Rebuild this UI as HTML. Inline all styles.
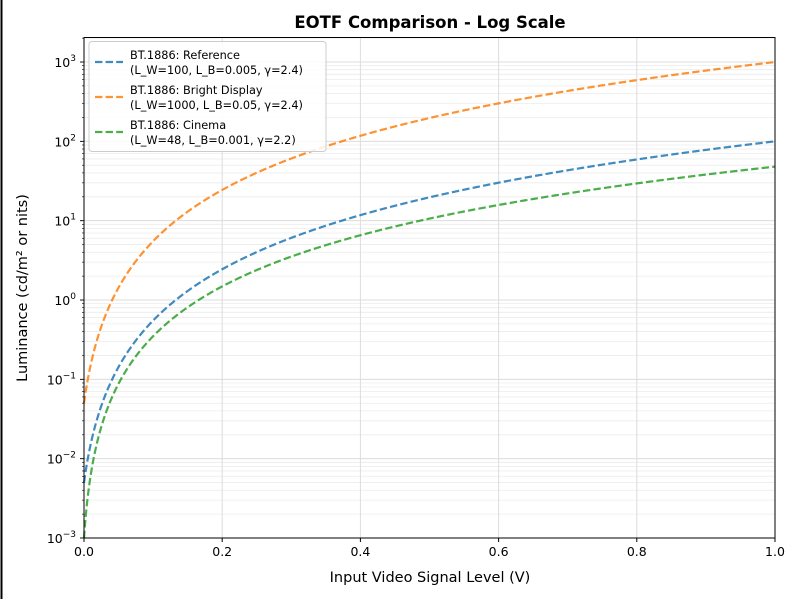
<!DOCTYPE html>
<html><head><meta charset="utf-8"><style>
html,body{margin:0;padding:0;background:#fff;}
svg{display:block;font-family:"Liberation Sans","DejaVu Sans",sans-serif;}
</style></head><body>
<svg id="s" width="800" height="599" viewBox="0 0 800 599" xmlns="http://www.w3.org/2000/svg">
<rect width="800" height="599" fill="#fff"/>
<line x1="1.5" y1="0" x2="1.5" y2="599" stroke="#000" stroke-width="2"/>
<g id="grid"></g>
<g id="curves" fill="none" stroke-width="2.2" stroke-dasharray="7.4,3.2" opacity="0.85"></g>
<rect x="84" y="37.5" width="691" height="500.5" fill="none" stroke="#000" stroke-width="1"/>
<g id="ticks" font-size="12.5" fill="#000"></g>
<text x="430" y="28" text-anchor="middle" font-size="16.5" font-weight="bold" font-family="DejaVu Sans,sans-serif">EOTF Comparison - Log Scale</text>
<text x="430" y="582" text-anchor="middle" font-size="14.5" font-family="DejaVu Sans,sans-serif">Input Video Signal Level (V)</text>
<text transform="translate(27,288) rotate(-90)" text-anchor="middle" font-size="14.5" font-family="DejaVu Sans,sans-serif">Luminance (cd/m² or nits)</text>
<g font-size="11.3" font-family="DejaVu Sans,sans-serif">
<rect x="89" y="41.5" width="237" height="110" rx="3" fill="#fff" fill-opacity="0.85" stroke="#ccc"/>
<line x1="95" y1="62" x2="123" y2="62" stroke="#1f77b4" stroke-width="2.2" stroke-dasharray="7.4,3.2" opacity="0.85"/>
<line x1="95" y1="97" x2="123" y2="97" stroke="#ff7f0e" stroke-width="2.2" stroke-dasharray="7.4,3.2" opacity="0.85"/>
<line x1="95" y1="132" x2="123" y2="132" stroke="#2ca02c" stroke-width="2.2" stroke-dasharray="7.4,3.2" opacity="0.85"/>
<text x="130" y="59">BT.1886: Reference</text>
<text x="130" y="74">(L_W=100, L_B=0.005, γ=2.4)</text>
<text x="130" y="94">BT.1886: Bright Display</text>
<text x="130" y="109">(L_W=1000, L_B=0.05, γ=2.4)</text>
<text x="130" y="129">BT.1886: Cinema</text>
<text x="130" y="144">(L_W=48, L_B=0.001, γ=2.2)</text>
</g>
</svg>
<script>
var X0=84,X1=775,YB=538,PD=79.33,NS="http://www.w3.org/2000/svg";
function px(v){return X0+v*(X1-X0);}
function py(L){return YB-PD*(Math.log10(L)+3);}
function el(p,t,a,txt){var e=document.createElementNS(NS,t);for(var k in a)e.setAttribute(k,a[k]);if(txt!=null)e.textContent=txt;p.appendChild(e);return e;}
var g=document.getElementById('grid'),tk=document.getElementById('ticks'),cv=document.getElementById('curves');
for(var d=-3;d<=3;d++){for(var m=1;m<=9;m++){var y=py(m*Math.pow(10,d));if(y<38)continue;
el(g,'line',{x1:X0,x2:X1,y1:y,y2:y,stroke:m==1?'#dcdcdc':'#ececec','stroke-width':m==1?1:0.8});
el(tk,'line',{x1:X0,x2:X0-(m==1?4:2),y1:y,y2:y,stroke:'#000','stroke-width':m==1?0.9:0.6});}
var y=py(Math.pow(10,d));var t=el(tk,'text',{x:X0-8,y:y+5,'text-anchor':'end','font-family':'DejaVu Sans,sans-serif'});
t.appendChild(document.createTextNode('10'));var s=el(t,'tspan',{dy:-6,'font-size':9},String(d).replace('-','−'));}
for(var i=0;i<=5;i++){var x=px(i*0.2);el(g,'line',{x1:x,x2:x,y1:38,y2:YB,stroke:'#dcdcdc'});
el(tk,'line',{x1:x,x2:x,y1:YB,y2:YB+4,stroke:'#000'});
el(tk,'text',{x:x,y:YB+18,'text-anchor':'middle','font-family':'DejaVu Sans,sans-serif'},(i*0.2).toFixed(1));}
function curve(Lw,Lb,gm,c){var a=Math.pow(Math.pow(Lw,1/gm)-Math.pow(Lb,1/gm),gm),b=Math.pow(Lb,1/gm)/(Math.pow(Lw,1/gm)-Math.pow(Lb,1/gm));
var d='';for(var i=0;i<=1000;i++){var v=i/1000;var L=a*Math.pow(Math.max(v+b,0),gm);d+=(i?'L':'M')+px(v).toFixed(2)+' '+py(L).toFixed(2);}
el(cv,'path',{d:d,stroke:c});}
curve(100,0.005,2.4,'#1f77b4');curve(1000,0.05,2.4,'#ff7f0e');curve(48,0.001,2.2,'#2ca02c');
</script>
</body></html>
